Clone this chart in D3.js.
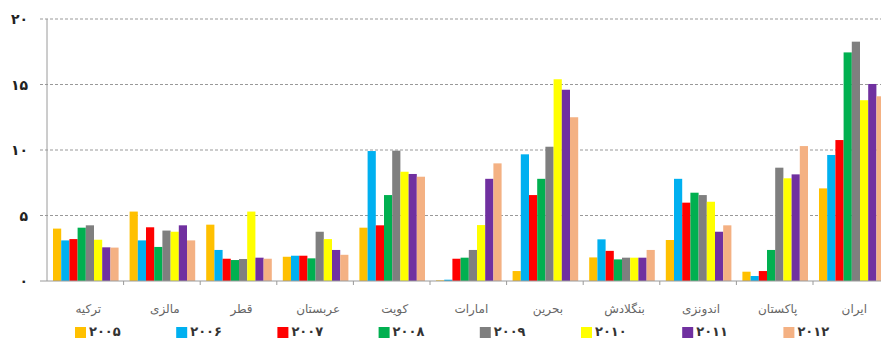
<!DOCTYPE html>
<html>
<head>
<meta charset="utf-8">
<script src="https://cdn.jsdelivr.net/npm/d3@7"></script>
<style>
  html, body { margin: 0; padding: 0; background: #fff; }
  svg { display: block; }
  text { font-family: "DejaVu Sans", sans-serif; }
</style>
</head>
<body>
<svg id="chart" width="881" height="342"></svg>
<script>
// Countries along the x axis (left to right)
const categories = ["ترکیه", "مالزی", "قطر", "عربستان", "کویت", "امارات", "بحرین", "بنگلادش", "اندونزی", "پاکستان", "ایران"];
// Legend years
const years = ["۲۰۰۵", "۲۰۰۶", "۲۰۰۷", "۲۰۰۸", "۲۰۰۹", "۲۰۱۰", "۲۰۱۱", "۲۰۱۲"];
const colors = ["#FFC000", "#00B0F0", "#FF0000", "#00B050", "#7F7F7F", "#FFFF00", "#7030A0", "#F4B183"];

// One array per year, one value per country
const v2005 = [4.0, 5.3, 4.3, 1.85, 4.07, 0.05, 0.76, 1.8, 3.13, 0.71, 7.07];
const v2006 = [3.1, 3.1, 2.37, 1.93, 9.92, 0.1, 9.67, 3.18, 7.8, 0.38, 9.62];
const v2007 = [3.2, 4.1, 1.7, 1.93, 4.25, 1.7, 6.56, 2.3, 5.98, 0.76, 10.76];
const v2008 = [4.07, 2.6, 1.6, 1.73, 6.56, 1.78, 7.8, 1.65, 6.74, 2.37, 17.45];
const v2009 = [4.25, 3.85, 1.68, 3.76, 9.95, 2.37, 10.25, 1.78, 6.56, 8.65, 18.27];
const v2010 = [3.15, 3.76, 5.3, 3.2, 8.34, 4.27, 15.4, 1.78, 6.05, 7.84, 13.8];
const v2011 = [2.57, 4.25, 1.78, 2.37, 8.17, 7.8, 14.6, 1.78, 3.76, 8.14, 15.04];
const v2012 = [2.55, 3.1, 1.7, 2.0, 7.96, 8.98, 12.5, 2.37, 4.25, 10.3, 14.1];
const series = [v2005, v2006, v2007, v2008, v2009, v2010, v2011, v2012];

const yTicks = [0, 5, 10, 15, 20];
const faDigits = "۰۱۲۳۴۵۶۷۸۹";
const toFa = n => String(n).replace(/\d/g, d => faDigits[d]);

const svg = d3.select("#chart");
const x0 = 47, plotRight = 889.6, yTop = 19, yBottom = 281;

const x = d3.scaleBand().domain(categories).range([x0, plotRight]).padding(0);
const xi = d3.scaleBand().domain(d3.range(years.length))
  .range([6, x.bandwidth() - 5]).padding(0);
const y = d3.scaleLinear().domain([0, 20]).range([yBottom, yTop]);

// Dashed horizontal gridlines
svg.append("g").selectAll("line")
  .data(yTicks.filter(t => t > 0))
  .join("line")
  .attr("x1", 40).attr("x2", 881)
  .attr("y1", d => y(d)).attr("y2", d => y(d))
  .attr("stroke", "#999").attr("stroke-width", 1.2)
  .attr("stroke-dasharray", "3,2");

// Bars
const groups = svg.append("g").selectAll("g")
  .data(categories)
  .join("g")
  .attr("transform", d => `translate(${x(d)},0)`);

groups.selectAll("rect")
  .data((c, ci) => series.map((s, si) => ({ si, v: s[ci] })))
  .join("rect")
  .attr("x", d => xi(d.si))
  .attr("width", xi.bandwidth())
  .attr("y", d => y(d.v))
  .attr("height", d => yBottom - y(d.v))
  .attr("fill", d => colors[d.si]);

// Y axis line and labels
svg.append("line")
  .attr("x1", x0).attr("x2", x0)
  .attr("y1", yTop).attr("y2", yBottom)
  .attr("stroke", "#9a9a9a").attr("stroke-width", 1);

svg.append("g").selectAll("text")
  .data(yTicks)
  .join("text")
  .attr("x", 28).attr("y", d => y(d) + 5)
  .attr("text-anchor", "end")
  .attr("font-size", 14).attr("font-weight", "bold")
  .attr("fill", "#222")
  .text(d => toFa(d));

// X axis baseline with boundary ticks
svg.append("line")
  .attr("x1", 40).attr("x2", 881)
  .attr("y1", yBottom).attr("y2", yBottom)
  .attr("stroke", "#9a9a9a").attr("stroke-width", 1);

svg.append("g").selectAll("line")
  .data(categories.slice(1))
  .join("line")
  .attr("x1", d => x(d)).attr("x2", d => x(d))
  .attr("y1", yBottom).attr("y2", yBottom + 4)
  .attr("stroke", "#9a9a9a");

// Country labels
svg.append("g").selectAll("text")
  .data(categories)
  .join("text")
  .attr("x", d => x(d) + x.bandwidth() / 2 + 3)
  .attr("y", 313)
  .attr("text-anchor", "middle")
  .attr("font-size", 12)
  .attr("fill", "#666")
  .text(d => d);

// Legend
const legend = svg.append("g").selectAll("g")
  .data(years)
  .join("g")
  .attr("transform", (d, i) => `translate(${75 + i * 101.2},327)`);

legend.append("rect")
  .attr("width", 11).attr("height", 11)
  .attr("fill", (d, i) => colors[i]);

legend.append("text")
  .attr("x", 14).attr("y", 9)
  .attr("font-size", 13).attr("font-weight", "bold")
  .attr("fill", "#333")
  .text(d => d);
</script>
</body>
</html>
